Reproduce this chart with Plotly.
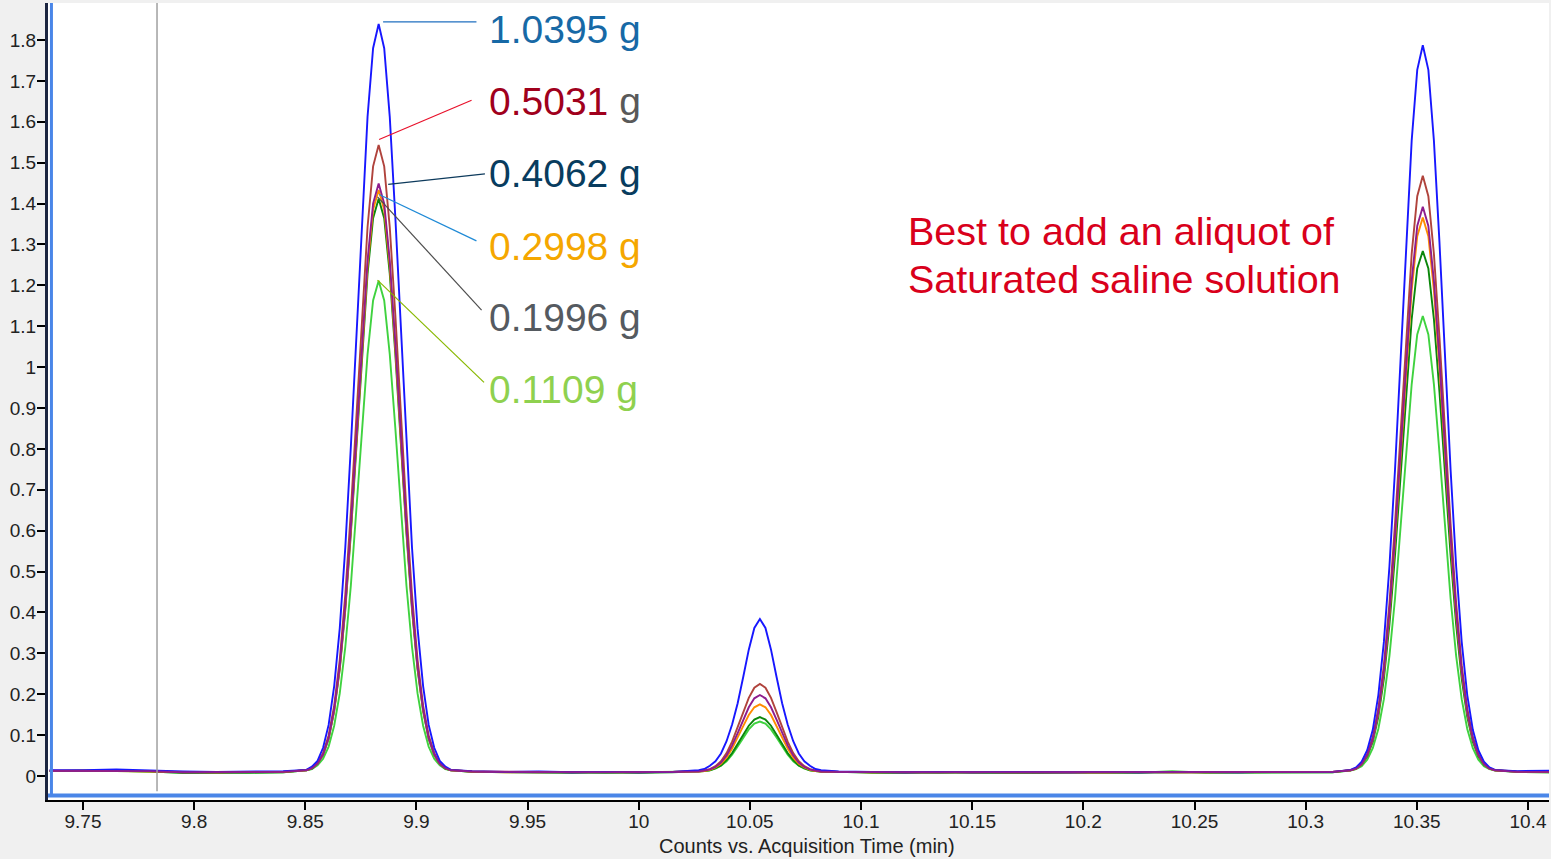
import plotly.graph_objects as go

# ---------------- data ----------------
TIME = (
    [9.735, 9.75, 9.765, 9.78, 9.795, 9.81, 9.825, 9.84]
    + [9.8505, 9.853, 9.8555, 9.858, 9.8605, 9.863, 9.8655, 9.868, 9.8705, 9.873, 9.8755, 9.878, 9.8805,
       9.883, 9.8855, 9.888, 9.8905, 9.893, 9.8955, 9.898, 9.9005, 9.903, 9.9055, 9.908, 9.9105, 9.913, 9.9155]
    + [9.925, 9.94, 9.955, 9.97, 9.985, 10.0, 10.015]
    + [10.027, 10.0295, 10.032, 10.0345, 10.037, 10.0395, 10.042, 10.0445, 10.047, 10.0495, 10.052,
       10.0545, 10.057, 10.0595, 10.062, 10.0645, 10.067, 10.0695, 10.072, 10.0745, 10.077, 10.0795, 10.082]
    + [10.09, 10.105, 10.12, 10.135, 10.15, 10.165, 10.18, 10.195, 10.21, 10.225, 10.24, 10.255, 10.27,
       10.285, 10.30, 10.312]
    + [10.3202, 10.3227, 10.3252, 10.3277, 10.3302, 10.3327, 10.3352, 10.3377, 10.3402, 10.3427, 10.3452,
       10.3477, 10.3502, 10.3527, 10.3552, 10.3577, 10.3602, 10.3627, 10.3652, 10.3677, 10.3702, 10.3727,
       10.3752, 10.3777, 10.3802, 10.3827, 10.3852]
    + [10.395, 10.41]
)

COUNTS_1_0395 = (
    [0.014, 0.014, 0.016, 0.013, 0.011, 0.010, 0.011, 0.012]
    + [0.015, 0.023, 0.037, 0.069, 0.125, 0.220, 0.361, 0.559, 0.806, 1.085, 1.367, 1.612, 1.780, 1.839,
       1.780, 1.612, 1.367, 1.085, 0.806, 0.559, 0.361, 0.220, 0.125, 0.069, 0.037, 0.023, 0.015]
    + [0.012, 0.010, 0.011, 0.009, 0.010, 0.009, 0.010]
    + [0.014, 0.017, 0.025, 0.036, 0.055, 0.085, 0.126, 0.178, 0.242, 0.309, 0.362, 0.384, 0.362, 0.309,
       0.242, 0.178, 0.126, 0.085, 0.055, 0.036, 0.025, 0.017, 0.014]
    + [0.011, 0.010, 0.009, 0.010, 0.009, 0.010, 0.009, 0.009, 0.010, 0.009, 0.010, 0.009, 0.009, 0.010,
       0.009, 0.010]
    + [0.015, 0.021, 0.035, 0.063, 0.113, 0.198, 0.328, 0.513, 0.749, 1.025, 1.305, 1.554, 1.727, 1.787,
       1.727, 1.554, 1.305, 1.025, 0.749, 0.513, 0.328, 0.198, 0.113, 0.063, 0.035, 0.021, 0.015]
    + [0.012, 0.013]
)

COUNTS_0_5031 = (
    [0.013, 0.013, 0.012, 0.012, 0.009, 0.009, 0.009, 0.010]
    + [0.015, 0.019, 0.031, 0.056, 0.099, 0.172, 0.284, 0.444, 0.648, 0.885, 1.128, 1.342, 1.491, 1.543,
       1.491, 1.342, 1.128, 0.885, 0.648, 0.444, 0.284, 0.172, 0.099, 0.056, 0.031, 0.019, 0.015]
    + [0.011, 0.010, 0.009, 0.010, 0.009, 0.009, 0.010]
    + [0.011, 0.013, 0.017, 0.024, 0.036, 0.056, 0.084, 0.119, 0.156, 0.191, 0.216, 0.225, 0.216, 0.191,
       0.156, 0.119, 0.084, 0.056, 0.036, 0.024, 0.017, 0.013, 0.011]
    + [0.010, 0.009, 0.009, 0.009, 0.010, 0.009, 0.009, 0.010, 0.009, 0.009, 0.009, 0.010, 0.009, 0.009,
       0.009, 0.010]
    + [0.014, 0.019, 0.030, 0.054, 0.095, 0.165, 0.271, 0.423, 0.617, 0.843, 1.073, 1.277, 1.418, 1.468,
       1.418, 1.277, 1.073, 0.843, 0.617, 0.423, 0.271, 0.165, 0.095, 0.054, 0.030, 0.019, 0.014]
    + [0.011, 0.010]
)

COUNTS_0_4062 = (
    [0.013, 0.013, 0.013, 0.012, 0.009, 0.009, 0.009, 0.010]
    + [0.014, 0.019, 0.030, 0.053, 0.093, 0.163, 0.268, 0.417, 0.609, 0.832, 1.059, 1.260, 1.400, 1.449,
       1.400, 1.260, 1.059, 0.832, 0.609, 0.417, 0.268, 0.163, 0.093, 0.053, 0.030, 0.019, 0.014]
    + [0.011, 0.010, 0.009, 0.009, 0.009, 0.009, 0.010]
    + [0.011, 0.013, 0.016, 0.022, 0.033, 0.050, 0.075, 0.105, 0.138, 0.168, 0.190, 0.198, 0.190, 0.168,
       0.138, 0.105, 0.075, 0.050, 0.033, 0.022, 0.016, 0.013, 0.011]
    + [0.010, 0.009, 0.009, 0.009, 0.009, 0.009, 0.009, 0.009, 0.009, 0.009, 0.009, 0.009, 0.009, 0.009,
       0.009, 0.010]
    + [0.014, 0.018, 0.029, 0.051, 0.090, 0.156, 0.257, 0.401, 0.585, 0.799, 1.017, 1.211, 1.345, 1.392,
       1.345, 1.211, 1.017, 0.799, 0.585, 0.401, 0.257, 0.156, 0.090, 0.051, 0.029, 0.018, 0.014]
    + [0.010, 0.010]
)

COUNTS_0_2998 = (
    [0.012, 0.014, 0.012, 0.011, 0.010, 0.009, 0.010, 0.010]
    + [0.014, 0.019, 0.030, 0.053, 0.093, 0.161, 0.265, 0.413, 0.602, 0.823, 1.047, 1.247, 1.385, 1.433,
       1.385, 1.247, 1.047, 0.823, 0.602, 0.413, 0.265, 0.161, 0.093, 0.053, 0.030, 0.019, 0.014]
    + [0.011, 0.009, 0.010, 0.010, 0.009, 0.010, 0.010]
    + [0.011, 0.012, 0.015, 0.021, 0.030, 0.045, 0.067, 0.093, 0.122, 0.149, 0.168, 0.175, 0.168, 0.149,
       0.122, 0.093, 0.067, 0.045, 0.030, 0.021, 0.015, 0.012, 0.011]
    + [0.010, 0.009, 0.010, 0.009, 0.009, 0.010, 0.009, 0.009, 0.009, 0.010, 0.009, 0.009, 0.010, 0.009,
       0.009, 0.010]
    + [0.014, 0.018, 0.029, 0.051, 0.089, 0.154, 0.253, 0.394, 0.574, 0.784, 0.999, 1.188, 1.320, 1.366,
       1.320, 1.188, 0.999, 0.784, 0.574, 0.394, 0.253, 0.154, 0.089, 0.051, 0.029, 0.018, 0.014]
    + [0.011, 0.010]
)

COUNTS_0_1996 = (
    [0.012, 0.012, 0.013, 0.011, 0.008, 0.008, 0.008, 0.009]
    + [0.014, 0.018, 0.030, 0.052, 0.091, 0.159, 0.261, 0.407, 0.593, 0.811, 1.032, 1.228, 1.364, 1.412,
       1.364, 1.228, 1.032, 0.811, 0.593, 0.407, 0.261, 0.159, 0.091, 0.052, 0.030, 0.018, 0.014]
    + [0.010, 0.009, 0.009, 0.008, 0.009, 0.008, 0.009]
    + [0.011, 0.012, 0.014, 0.019, 0.026, 0.039, 0.056, 0.078, 0.101, 0.123, 0.138, 0.144, 0.138, 0.123,
       0.101, 0.078, 0.056, 0.039, 0.026, 0.019, 0.014, 0.012, 0.011]
    + [0.010, 0.008, 0.008, 0.009, 0.008, 0.008, 0.009, 0.008, 0.008, 0.008, 0.009, 0.008, 0.008, 0.008,
       0.008, 0.009]
    + [0.014, 0.018, 0.028, 0.048, 0.084, 0.145, 0.238, 0.371, 0.540, 0.737, 0.939, 1.117, 1.241, 1.284,
       1.241, 1.117, 0.939, 0.737, 0.540, 0.371, 0.238, 0.145, 0.084, 0.048, 0.028, 0.018, 0.014]
    + [0.010, 0.009]
)

COUNTS_0_1109 = (
    [0.012, 0.013, 0.012, 0.011, 0.008, 0.009, 0.008, 0.009]
    + [0.014, 0.017, 0.026, 0.042, 0.072, 0.123, 0.202, 0.316, 0.466, 0.653, 0.851, 1.031, 1.163, 1.211,
       1.163, 1.031, 0.851, 0.653, 0.466, 0.316, 0.202, 0.123, 0.072, 0.042, 0.026, 0.017, 0.014]
    + [0.010, 0.010, 0.009, 0.009, 0.008, 0.009, 0.009]
    + [0.011, 0.012, 0.014, 0.018, 0.025, 0.036, 0.052, 0.072, 0.094, 0.114, 0.128, 0.133, 0.128, 0.114,
       0.094, 0.072, 0.052, 0.036, 0.025, 0.018, 0.014, 0.012, 0.011]
    + [0.010, 0.009, 0.008, 0.008, 0.009, 0.008, 0.008, 0.009, 0.008, 0.008, 0.012, 0.008, 0.008, 0.008,
       0.008, 0.009]
    + [0.013, 0.017, 0.024, 0.040, 0.068, 0.115, 0.188, 0.294, 0.434, 0.607, 0.791, 0.958, 1.080, 1.125,
       1.080, 0.958, 0.791, 0.607, 0.434, 0.294, 0.188, 0.115, 0.068, 0.040, 0.024, 0.017, 0.013]
    + [0.010, 0.009]
)

SAMPLE_LABELS = ["1.0395 g", "0.5031 g", "0.4062 g", "0.2998 g", "0.1996 g", "0.1109 g"]

X_TICKS = [9.75, 9.8, 9.85, 9.9, 9.95, 10.0, 10.05, 10.1, 10.15, 10.2, 10.25, 10.3, 10.35, 10.4]
X_TICK_TEXT = ["9.75", "9.8", "9.85", "9.9", "9.95", "10", "10.05", "10.1", "10.15", "10.2", "10.25",
               "10.3", "10.35", "10.4"]
Y_TICKS = [0, 0.1, 0.2, 0.3, 0.4, 0.5, 0.6, 0.7, 0.8, 0.9, 1.0, 1.1, 1.2, 1.3, 1.4, 1.5, 1.6, 1.7, 1.8]
Y_TICK_TEXT = ["0", "0.1", "0.2", "0.3", "0.4", "0.5", "0.6", "0.7", "0.8", "0.9", "1", "1.1", "1.2",
               "1.3", "1.4", "1.5", "1.6", "1.7", "1.8"]

X_TITLE = "Counts vs. Acquisition Time (min)"
NOTE_LINES = ["Best to add an aliquot of", "Saturated saline solution"]
CURSOR_TIME = 9.7833

# ---------------- styling ----------------
FONT = "Liberation Sans, Arial, sans-serif"
series = [
    # (values, line colour) in drawing order
    (COUNTS_0_1109, "#3fd23f"),
    (COUNTS_0_1996, "#0b870b"),
    (COUNTS_0_2998, "#ff8c00"),
    (COUNTS_0_5031, "#b0433c"),
    (COUNTS_1_0395, "#1717ff"),
    (COUNTS_0_4062, "#8e1d8e"),
]

fig = go.Figure()
for vals, col in series:
    fig.add_trace(go.Scatter(x=TIME, y=vals, mode="lines",
                             line=dict(color=col, width=1.9), hoverinfo="skip"))

X_RANGE = [9.73426, 10.40947]
Y_RANGE = [-0.0587, 1.8905]

fig.update_layout(
    width=1551, height=859,
    margin=dict(l=48, r=2, t=3, b=59),
    paper_bgcolor="#f0f0f0", plot_bgcolor="#ffffff",
    showlegend=False,
    font=dict(family=FONT, size=18, color="#222222"),
    xaxis=dict(range=X_RANGE, tickvals=X_TICKS, ticktext=X_TICK_TEXT, showgrid=False, zeroline=False,
               showline=True, linecolor="#000000", linewidth=2, ticks="outside", ticklen=8,
               tickwidth=1.5, tickcolor="#000000", ticklabelstandoff=-5,
               tickfont=dict(size=19, color="#222222")),
    yaxis=dict(range=Y_RANGE, tickvals=Y_TICKS, ticktext=Y_TICK_TEXT, showgrid=False, zeroline=False,
               showline=True, linecolor="#1b2540", linewidth=3, ticks="outside", ticklen=8,
               tickwidth=1.5, tickcolor="#000000", ticklabelstandoff=-3,
               tickfont=dict(size=19, color="#222222")),
)

shapes = [
    dict(type="line", xref="x", yref="paper", x0=CURSOR_TIME, x1=CURSOR_TIME, y0=0.011, y1=1,
         line=dict(color="#a0a0a0", width=1.5), layer="above"),
    dict(type="line", xref="paper", yref="paper", x0=0.0023, x1=0.0023, y0=0.004, y1=1,
         line=dict(color="#4a86e8", width=3), layer="above"),
    dict(type="line", xref="paper", yref="paper", x0=0, x1=1, y0=0.0058, y1=0.0058,
         line=dict(color="#4a86e8", width=4), layer="above"),
]

# leader lines: (x_peak, y_peak, x_label, y_label, colour)
LEADERS = [
    (9.8850, 1.8443, 9.9270, 1.8443, "#1f6fbf"),
    (9.8832, 1.5567, 9.9248, 1.6528, "#e8102a"),
    (9.8873, 1.4467, 9.9308, 1.4726, "#0d3a5c"),
    (9.8832, 1.4222, 9.9270, 1.3088, "#1f8ad6"),
    (9.8825, 1.4164, 9.9293, 1.1394, "#4d4d4d"),
    (9.8825, 1.2127, 9.9304, 0.9626, "#88b800"),
]
for x0, y0, x1, y1, c in LEADERS:
    shapes.append(dict(type="line", xref="x", yref="y", x0=x0, y0=y0, x1=x1, y1=y1,
                       line=dict(color=c, width=1.2), layer="above"))
fig.update_layout(shapes=shapes)

LABEL_X = 9.9317
LABEL_Y = [1.8264, 1.6504, 1.4743, 1.2959, 1.1210, 0.9462]
LABEL_COLORS = ["#1769a6", "#a0001c", "#083c5e", "#f5a700", "#555a60", "#8fd14f"]
annotations = []
for i, (txt, y, c) in enumerate(zip(SAMPLE_LABELS, LABEL_Y, LABEL_COLORS)):
    if i == 1:
        num, unit = txt.split(" ")
        text = f"<span style='color:{c}'>{num}</span> {unit}"
        col = "#595959"
    else:
        text = txt
        col = c
    annotations.append(dict(x=LABEL_X, y=y, xref="x", yref="y", text=text, showarrow=False,
                            xanchor="left", yanchor="middle",
                            font=dict(family=FONT, size=39, color=col)))

for line, y in zip(NOTE_LINES, [1.3325, 1.2152]):
    annotations.append(dict(x=10.1202, y=y, xref="x", yref="y", text=line, showarrow=False,
                            xanchor="left", yanchor="middle",
                            font=dict(family=FONT, size=39.5, color="#d9001b")))

annotations.append(dict(x=0.5057, y=-0.0577, xref="paper", yref="paper", text=X_TITLE, showarrow=False,
                        xanchor="center", yanchor="middle",
                        font=dict(family=FONT, size=20, color="#222222")))
fig.update_layout(annotations=annotations)

fig.write_html("out.html", include_plotlyjs=True, config={"displayModeBar": False})
